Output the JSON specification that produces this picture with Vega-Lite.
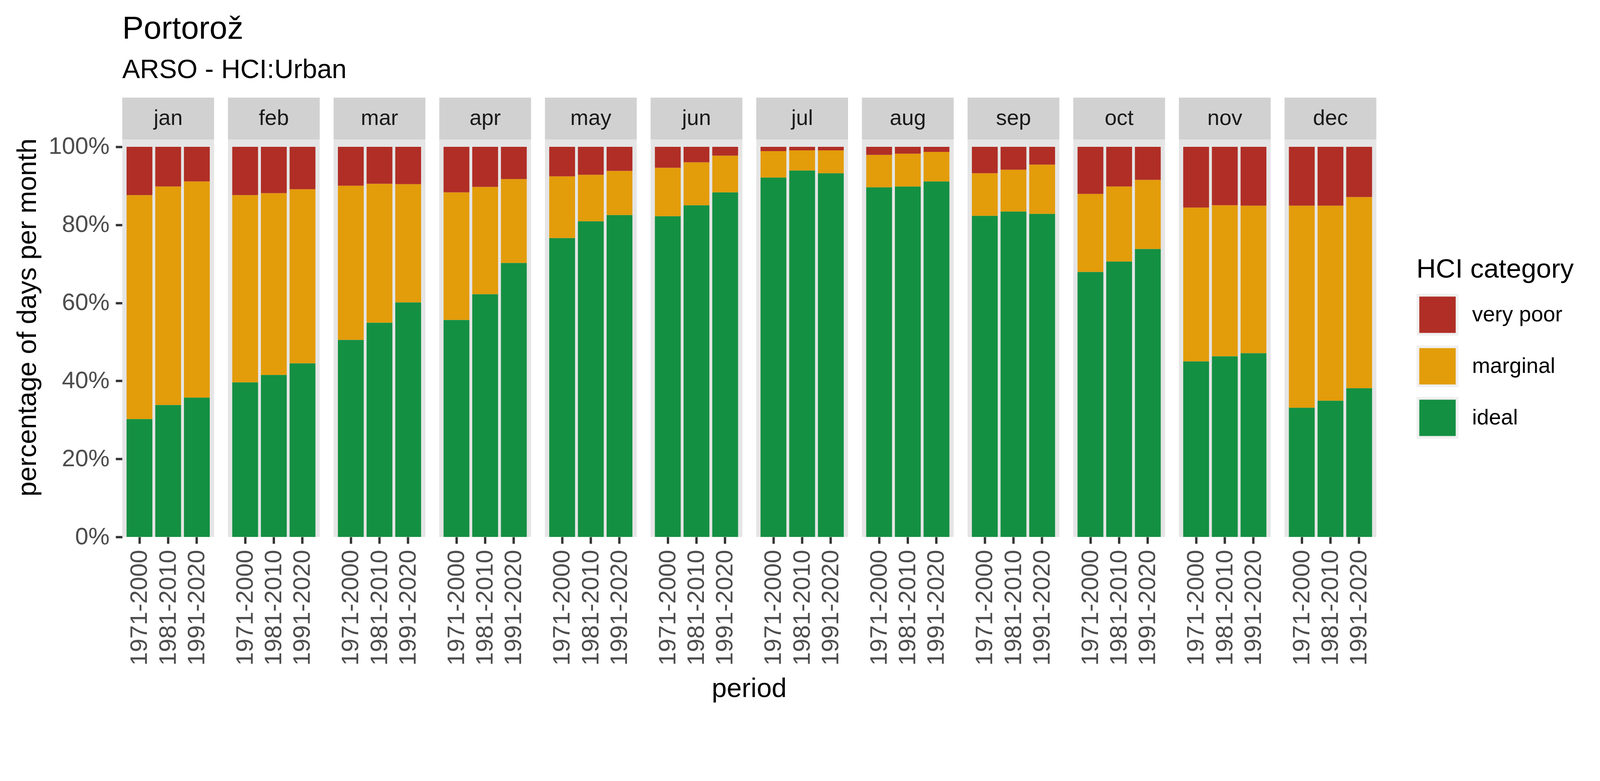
{
  "$schema": "https://vega.github.io/schema/vega-lite/v6.json",
  "title": {
    "text": "Portorož",
    "subtitle": "ARSO - HCI:Urban",
    "anchor": "start",
    "frame": "group",
    "fontSize": 82,
    "fontWeight": "normal",
    "color": "black",
    "subtitleFontSize": 68,
    "subtitleColor": "black",
    "subtitlePadding": 30,
    "offset": 35
  },
  "padding": {"left": 36, "top": 33, "right": 40, "bottom": 35},
  "background": "white",
  "data": {
    "values": [
      {"month": "jan", "period": "1971-2000", "ideal": 30.2, "marginal": 57.4, "very poor": 12.4},
      {"month": "jan", "period": "1981-2010", "ideal": 33.8, "marginal": 56.0, "very poor": 10.2},
      {"month": "jan", "period": "1991-2020", "ideal": 35.7, "marginal": 55.4, "very poor": 8.9},
      {"month": "feb", "period": "1971-2000", "ideal": 39.6, "marginal": 48.0, "very poor": 12.4},
      {"month": "feb", "period": "1981-2010", "ideal": 41.5, "marginal": 46.6, "very poor": 11.9},
      {"month": "feb", "period": "1991-2020", "ideal": 44.5, "marginal": 44.6, "very poor": 10.9},
      {"month": "mar", "period": "1971-2000", "ideal": 50.5, "marginal": 39.5, "very poor": 10.0},
      {"month": "mar", "period": "1981-2010", "ideal": 54.9, "marginal": 35.6, "very poor": 9.5},
      {"month": "mar", "period": "1991-2020", "ideal": 60.1, "marginal": 30.3, "very poor": 9.6},
      {"month": "apr", "period": "1971-2000", "ideal": 55.6, "marginal": 32.7, "very poor": 11.7},
      {"month": "apr", "period": "1981-2010", "ideal": 62.2, "marginal": 27.5, "very poor": 10.3},
      {"month": "apr", "period": "1991-2020", "ideal": 70.2, "marginal": 21.5, "very poor": 8.3},
      {"month": "may", "period": "1971-2000", "ideal": 76.6, "marginal": 15.8, "very poor": 7.6},
      {"month": "may", "period": "1981-2010", "ideal": 80.9, "marginal": 11.9, "very poor": 7.2},
      {"month": "may", "period": "1991-2020", "ideal": 82.5, "marginal": 11.3, "very poor": 6.2},
      {"month": "jun", "period": "1971-2000", "ideal": 82.2, "marginal": 12.4, "very poor": 5.4},
      {"month": "jun", "period": "1981-2010", "ideal": 85.0, "marginal": 11.0, "very poor": 4.0},
      {"month": "jun", "period": "1991-2020", "ideal": 88.3, "marginal": 9.4, "very poor": 2.3},
      {"month": "jul", "period": "1971-2000", "ideal": 92.1, "marginal": 6.8, "very poor": 1.1},
      {"month": "jul", "period": "1981-2010", "ideal": 93.9, "marginal": 5.2, "very poor": 0.9},
      {"month": "jul", "period": "1991-2020", "ideal": 93.2, "marginal": 5.9, "very poor": 0.9},
      {"month": "aug", "period": "1971-2000", "ideal": 89.6, "marginal": 8.3, "very poor": 2.1},
      {"month": "aug", "period": "1981-2010", "ideal": 89.8, "marginal": 8.4, "very poor": 1.8},
      {"month": "aug", "period": "1991-2020", "ideal": 91.1, "marginal": 7.6, "very poor": 1.3},
      {"month": "sep", "period": "1971-2000", "ideal": 82.3, "marginal": 10.9, "very poor": 6.8},
      {"month": "sep", "period": "1981-2010", "ideal": 83.4, "marginal": 10.7, "very poor": 5.9},
      {"month": "sep", "period": "1991-2020", "ideal": 82.8, "marginal": 12.6, "very poor": 4.6},
      {"month": "oct", "period": "1971-2000", "ideal": 67.9, "marginal": 20.0, "very poor": 12.1},
      {"month": "oct", "period": "1981-2010", "ideal": 70.6, "marginal": 19.2, "very poor": 10.2},
      {"month": "oct", "period": "1991-2020", "ideal": 73.8, "marginal": 17.7, "very poor": 8.5},
      {"month": "nov", "period": "1971-2000", "ideal": 45.0, "marginal": 39.4, "very poor": 15.6},
      {"month": "nov", "period": "1981-2010", "ideal": 46.3, "marginal": 38.7, "very poor": 15.0},
      {"month": "nov", "period": "1991-2020", "ideal": 47.1, "marginal": 37.8, "very poor": 15.1},
      {"month": "dec", "period": "1971-2000", "ideal": 33.1, "marginal": 51.8, "very poor": 15.1},
      {"month": "dec", "period": "1981-2010", "ideal": 34.9, "marginal": 50.0, "very poor": 15.1},
      {"month": "dec", "period": "1991-2020", "ideal": 38.1, "marginal": 49.0, "very poor": 12.9}
    ]
  },
  "transform": [
    {"fold": ["very poor", "marginal", "ideal"], "as": ["category", "value"]}
  ],
  "facet": {
    "column": {
      "field": "month",
      "type": "nominal",
      "sort": ["jan", "feb", "mar", "apr", "may", "jun", "jul", "aug", "sep", "oct", "nov", "dec"],
      "header": {
        "labels": false,
        "title": "period",
        "titleOrient": "bottom",
        "titleFontSize": 69,
        "titleFontWeight": "normal",
        "titleColor": "black",
        "titlePadding": 16
      }
    }
  },
  "spacing": 35.5,
  "spec": {
    "width": 235,
    "height": 1125,
    "layer": [
      {
        "transform": [{"filter": "datum.period == '1971-2000' && datum.category == 'ideal'"}],
        "mark": {"type": "rect", "color": "#E5E5E5"},
        "encoding": {
          "y": {"datum": 0, "type": "quantitative", "title": "percentage of days per month"},
          "y2": {"datum": 101.9}
        }
      },
      {
        "transform": [{"filter": "datum.period == '1971-2000' && datum.category == 'ideal'"}],
        "mark": {"type": "rect", "color": "#D1D1D1"},
        "encoding": {
          "y": {"datum": 101.9, "type": "quantitative", "title": "percentage of days per month"},
          "y2": {"datum": 112.6}
        }
      },
      {
        "transform": [{"filter": "datum.period == '1971-2000' && datum.category == 'ideal'"}],
        "mark": {"type": "text", "fontSize": 55.5, "color": "#1A1A1A", "baseline": "middle", "align": "center"},
        "encoding": {
          "y": {"datum": 107.25, "type": "quantitative", "title": "percentage of days per month"},
          "text": {"field": "month"}
        }
      },
      {
        "mark": {"type": "bar"},
        "encoding": {
          "x": {
            "field": "period",
            "type": "nominal",
            "scale": {"paddingInner": 0.1, "paddingOuter": 0.15},
            "axis": {"title": null, "labelAngle": -90, "labelAlign": "right", "labelBaseline": "middle"}
          },
          "y": {
            "field": "value",
            "type": "quantitative",
            "stack": "zero",
            "title": "percentage of days per month",
            "scale": {"domain": [0, 112.6], "nice": false, "zero": true},
            "axis": {"values": [0, 20, 40, 60, 80, 100], "labelExpr": "datum.value + '%'"}
          },
          "color": {
            "field": "category",
            "type": "nominal",
            "title": "HCI category",
            "scale": {
              "domain": ["very poor", "marginal", "ideal"],
              "range": ["#B02E26", "#E39C0A", "#149042"]
            },
            "legend": {
              "orient": "none",
              "legendX": 3313,
              "legendY": 406,
              "encode": {
                "symbols": {"update": {"stroke": {"value": "#F0F0F0"}, "strokeWidth": {"value": 7}}}
              }
            }
          },
          "order": {"field": "category", "sort": "ascending"}
        }
      }
    ]
  },
  "config": {
    "font": "Liberation Sans",
    "view": {"stroke": null},
    "axis": {
      "domain": false,
      "grid": false,
      "ticks": true,
      "tickColor": "#333333",
      "tickSize": 17,
      "tickWidth": 6,
      "labelColor": "#4D4D4D",
      "labelLimit": 0,
      "titleColor": "black",
      "titleFontWeight": "normal",
      "titleFontSize": 69
    },
    "axisY": {"labelFontSize": 61, "labelPadding": 16, "titlePadding": 18},
    "axisX": {"labelFontSize": 62, "labelPadding": 15.5},
    "legend": {
      "padding": 0,
      "titleFontSize": 69,
      "titleFontWeight": "normal",
      "titleColor": "black",
      "titlePadding": 27,
      "titleLimit": 0,
      "labelFontSize": 55.5,
      "labelColor": "black",
      "labelLimit": 0,
      "labelOffset": 34.5,
      "symbolType": "square",
      "symbolSize": 10040,
      "symbolOpacity": 1,
      "rowPadding": 2
    }
  }
}
